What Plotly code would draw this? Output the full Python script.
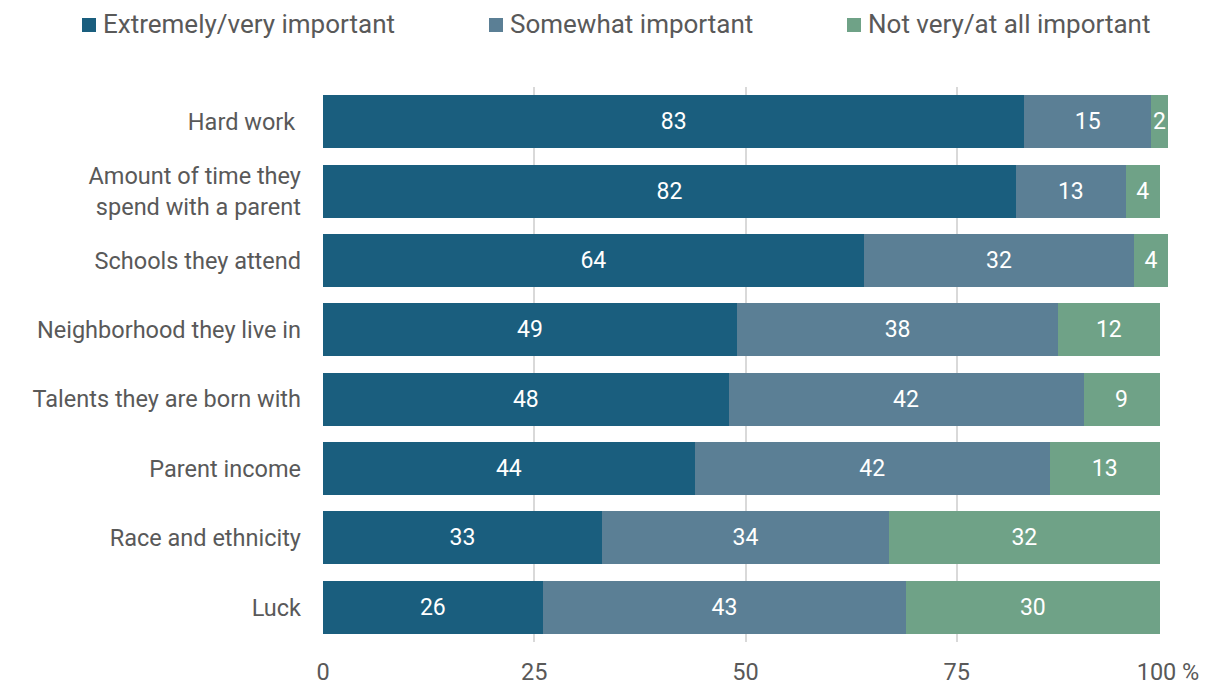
import plotly.graph_objects as go

categories = [
    "Hard work ",
    "Amount of time they<br>spend with a parent",
    "Schools they attend",
    "Neighborhood they live in",
    "Talents they are born with",
    "Parent income",
    "Race and ethnicity",
    "Luck",
]
very_important = [83, 82, 64, 49, 48, 44, 33, 26]
somewhat_important = [15, 13, 32, 38, 42, 42, 34, 43]
not_important = [2, 4, 4, 12, 9, 13, 32, 30]

series_names = ["Extremely/very important", "Somewhat important", "Not very/at all important"]
series_values = [very_important, somewhat_important, not_important]
series_colors = ["#1a5e7e", "#5b7f95", "#6fa287"]

tick_vals = [0, 25, 50, 75, 100]
tick_text = ["0", "25", "50", "75", "100 %"]

FONT = "Roboto, 'Noto Sans', sans-serif"
GRAY = "#595959"

W, H = 1215, 684
M_L, M_R, M_T, M_B = 323, 47, 87, 42
PLOT_W = W - M_L - M_R
PLOT_H = H - M_T - M_B


def px_x(px):
    """Horizontal pixel position -> paper fraction."""
    return (px - M_L) / PLOT_W


def px_y(py):
    """Vertical pixel position (from top) -> paper fraction."""
    return (H - M_B - py) / PLOT_H


fig = go.Figure()
for name, vals, color in zip(series_names, series_values, series_colors):
    fig.add_trace(go.Bar(
        y=categories,
        x=vals,
        name=name,
        orientation="h",
        marker=dict(color=color, line=dict(width=0)),
        text=[str(v) for v in vals],
        textposition="inside",
        insidetextanchor="middle",
        textfont=dict(color="white", size=23, family=FONT),
        constraintext="none",
        showlegend=False,
        hoverinfo="x+y+name",
    ))

# Legend row across the top: colour swatch followed by its label
legend_swatch_left = [82, 489, 847]
SWATCH = 14
legend_center_y = 25
for name, color, left in zip(series_names, series_colors, legend_swatch_left):
    fig.add_shape(
        type="rect", xref="paper", yref="paper",
        x0=px_x(left), x1=px_x(left + SWATCH),
        y0=px_y(legend_center_y + SWATCH / 2), y1=px_y(legend_center_y - SWATCH / 2),
        fillcolor=color, line=dict(width=0), layer="above",
    )
    fig.add_annotation(
        x=px_x(left + SWATCH + 5), y=px_y(legend_center_y - 1),
        xref="paper", yref="paper",
        xanchor="left", yanchor="middle",
        text=name, showarrow=False,
        font=dict(size=26, color=GRAY, family=FONT),
    )

fig.update_layout(
    width=W,
    height=H,
    barmode="stack",
    bargap=0.236,
    plot_bgcolor="white",
    paper_bgcolor="white",
    margin=dict(l=M_L, r=M_R, t=M_T, b=M_B, autoexpand=False),
    font=dict(family=FONT, color=GRAY),
    uniformtext=dict(minsize=23, mode="show"),
    showlegend=False,
    xaxis=dict(
        range=[0, 100],
        tickvals=tick_vals,
        ticktext=tick_text,
        showgrid=True,
        gridcolor="#d9d9d9",
        gridwidth=1.5,
        zeroline=False,
        showline=False,
        ticks="",
        ticklabelstandoff=13,
        tickfont=dict(size=23.5, color=GRAY, family=FONT),
        automargin=False,
        fixedrange=True,
    ),
    yaxis=dict(
        categoryorder="array",
        categoryarray=categories,
        autorange="reversed",
        showgrid=False,
        showline=False,
        ticks="",
        ticklabelstandoff=21,
        tickfont=dict(size=23.5, color=GRAY, family=FONT),
        automargin=False,
        fixedrange=True,
    ),
)

fig.write_html("out.html")
